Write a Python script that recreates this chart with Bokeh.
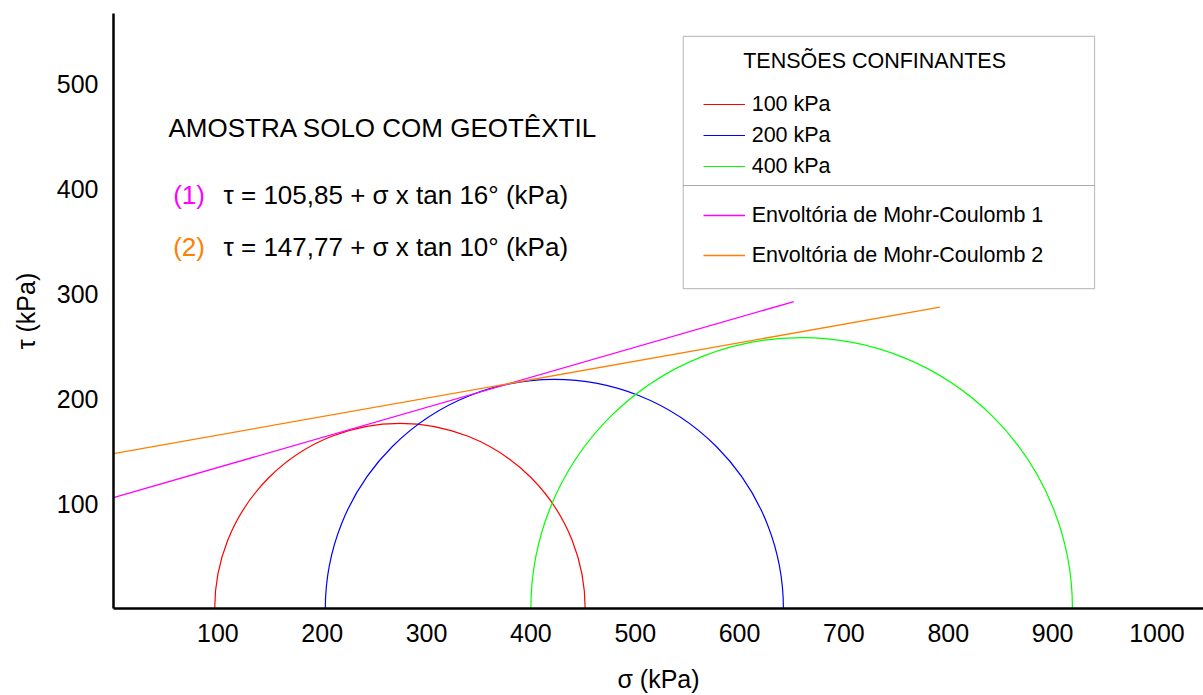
import numpy as np
from bokeh.plotting import figure
from bokeh.models import Range1d, FixedTicker, Legend, LegendItem, Label, BoxAnnotation
from bokeh.embed import file_html
from bokeh.resources import INLINE

# ---- data (kPa) ----
circle_labels = ["100 kPa", "200 kPa", "400 kPa"]
sigma3 = [97, 203, 400]          # minor principal stress (left end of circle)
sigma1 = [452, 642, 919]         # major principal stress (right end of circle)
circle_colors = ["#ff0000", "#0000ff", "#00ff00"]

env_labels = ["Envoltória de Mohr-Coulomb 1", "Envoltória de Mohr-Coulomb 2"]
cohesion = [105.85, 147.77]      # intercept c (kPa)
phi_deg = [16, 10]               # friction angle (degrees)
sigma_end = [652, 792]           # last sigma drawn for each envelope
env_colors = ["#ff00ff", "#ff8000"]

x_ticks = [100, 200, 300, 400, 500, 600, 700, 800, 900, 1000]
y_ticks = [100, 200, 300, 400, 500]

FONT = "Liberation Sans"

p = figure(width=1203, height=695,
           x_range=Range1d(0, 1044.6), y_range=Range1d(0, 567.6),
           output_backend="svg", toolbar_location=None,
           min_border_left=113, min_border_right=0,
           min_border_top=13, min_border_bottom=86)
p.outline_line_color = None
p.grid.visible = False

# Mohr circles (upper halves)
circle_renderers = []
nan2 = np.array([np.nan, np.nan])
for s3, s1, col in zip(sigma3, sigma1, circle_colors):
    c = (s1 + s3) / 2.0
    r = (s1 - s3) / 2.0
    p.arc(x=[c], y=[0], radius=[r], start_angle=0, end_angle=np.pi,
          line_color=col, line_width=1.2)
    # legend proxy (only shows the line sample in the legend)
    circle_renderers.append(p.line(x=nan2, y=nan2, line_color=col, line_width=1.2))

# Mohr-Coulomb envelopes
env_renderers = []
for c0, ph, se, col in zip(cohesion, phi_deg, sigma_end, env_colors):
    xs = [0, se]
    ys = [c0, c0 + se * np.tan(np.radians(ph))]
    rr = p.line(xs, ys, line_color=col, line_width=1.3)
    env_renderers.append(rr)

# axes
for ax in (p.xaxis[0], p.yaxis[0]):
    ax.axis_line_color = "black"
    ax.axis_line_width = 2.5
    ax.major_tick_out = 0
    ax.major_tick_in = 0
    ax.minor_tick_out = 0
    ax.minor_tick_in = 0
    ax.major_label_text_font = FONT
    ax.major_label_text_font_size = "25px"
    ax.major_label_text_color = "black"
    ax.axis_label_text_font = FONT
    ax.axis_label_text_font_size = "25px"
    ax.axis_label_text_font_style = "normal"
    ax.axis_label_text_color = "black"

p.xaxis[0].ticker = FixedTicker(ticks=x_ticks, minor_ticks=[])
p.yaxis[0].ticker = FixedTicker(ticks=y_ticks, minor_ticks=[])
p.xaxis[0].axis_label = "σ (kPa)"
p.yaxis[0].axis_label = "τ (kPa)"
p.xaxis[0].major_label_standoff = 15
p.xaxis[0].axis_label_standoff = 20
p.xaxis[0].axis_label_text_align = "right"
p.yaxis[0].major_label_standoff = 15
p.yaxis[0].axis_label_standoff = 14

# annotation texts
TXT = dict(text_font=FONT, text_font_size="26px", text_baseline="middle", text_align="left")
p.add_layout(Label(x=52.7, y=458, text="AMOSTRA SOLO COM GEOTÊXTIL", text_color="black", **TXT))
p.add_layout(Label(x=57.2, y=394.3, text="(1)", text_color=env_colors[0], **TXT))
p.add_layout(Label(x=105.4, y=394.3,
                   text=f"τ = {cohesion[0]:.2f}".replace(".", ",") + f" + σ x tan {phi_deg[0]}° (kPa)",
                   text_color="black", **TXT))
p.add_layout(Label(x=57.2, y=345.0, text="(2)", text_color=env_colors[1], **TXT))
p.add_layout(Label(x=105.4, y=345.0,
                   text=f"τ = {cohesion[1]:.2f}".replace(".", ",") + f" + σ x tan {phi_deg[1]}° (kPa)",
                   text_color="black", **TXT))

# legend frame (two stacked boxes)
box_kw = dict(left=546, right=940.2, line_color="#333333", line_width=1.2,
              fill_color="white", fill_alpha=1.0)
p.add_layout(BoxAnnotation(top=545.7, bottom=403.5, **box_kw))
p.add_layout(BoxAnnotation(top=403.5, bottom=305.2, **box_kw))
p.add_layout(Label(x=603.5, y=522.2, text="TENSÕES CONFINANTES", text_font=FONT,
                   text_font_size="21.5px", text_color="black",
                   text_baseline="middle", text_align="left"))

leg_kw = dict(padding=0, margin=0, glyph_width=42, glyph_height=26, label_height=26,
              label_standoff=7, border_line_alpha=0, background_fill_alpha=0,
              label_text_font=FONT, label_text_font_size="21.5px", label_text_color="black")
leg1 = Legend(items=[LegendItem(label=l, renderers=[r]) for l, r in zip(circle_labels, circle_renderers)],
              location=(589.7, 429), spacing=5, **leg_kw)
leg2 = Legend(items=[LegendItem(label=l, renderers=[r]) for l, r in zip(env_labels, env_renderers)],
              location=(589.7, 340), spacing=14, **leg_kw)
p.add_layout(leg1, "center")
p.add_layout(leg2, "center")

open("out.html", "w").write(file_html(p, INLINE))
